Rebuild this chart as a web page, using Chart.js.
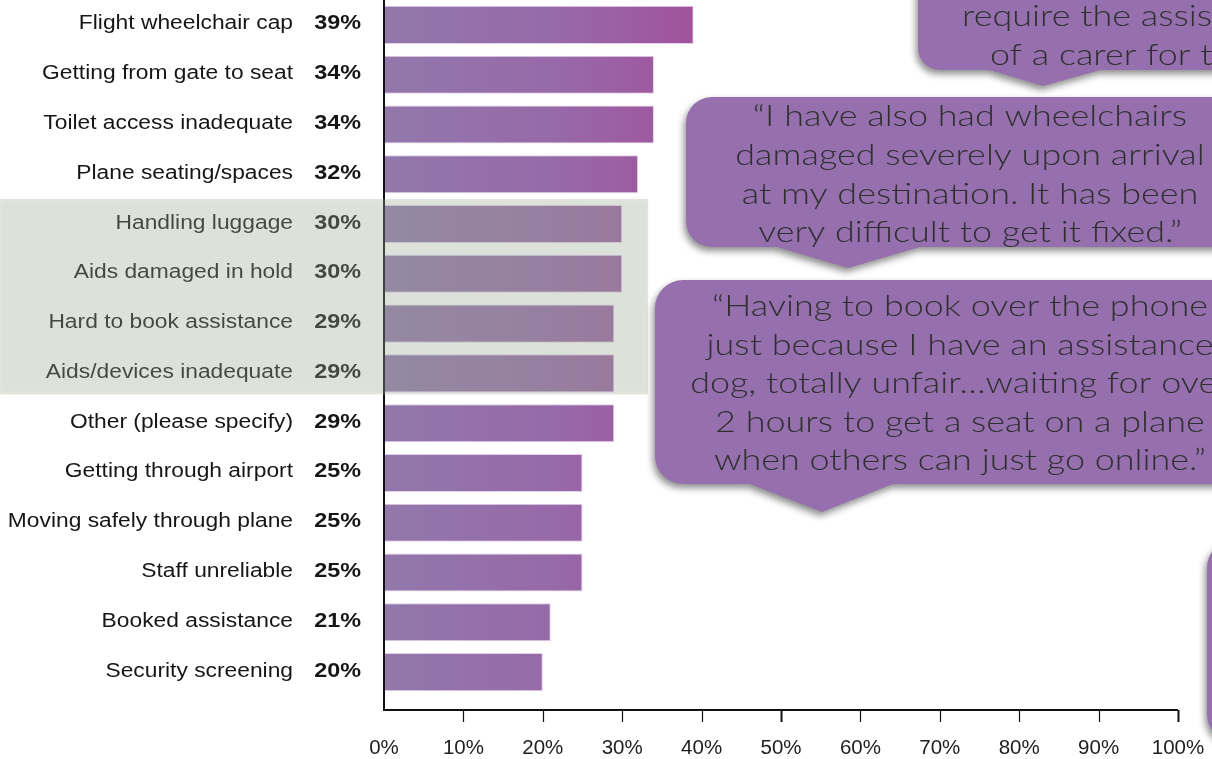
<!DOCTYPE html>
<html>
<head>
<meta charset="utf-8">
<script src="https://cdn.jsdelivr.net/npm/chart.js@4.4.1/dist/chart.umd.min.js"></script>
<style>
  html, body { margin: 0; padding: 0; background: #ffffff; }
  #wrap { position: relative; width: 1212px; height: 759px; overflow: hidden; }
  canvas { display: block; }
</style>
</head>
<body>
<div id="wrap"><canvas id="c" width="1212" height="759"></canvas></div>
<script>
// Barriers reported by respondents (share of respondents, %)
const categories = [
  'Flight wheelchair cap',
  'Getting from gate to seat',
  'Toilet access inadequate',
  'Plane seating/spaces',
  'Handling luggage',
  'Aids damaged in hold',
  'Hard to book assistance',
  'Aids/devices inadequate',
  'Other (please specify)',
  'Getting through airport',
  'Moving safely through plane',
  'Staff unreliable',
  'Booked assistance',
  'Security screening'
];
const percentages = [39, 34, 34, 32, 30, 30, 29, 29, 29, 25, 25, 25, 21, 20];
const highlightedRows = [4, 5, 6, 7];
const tickValues = [0, 10, 20, 30, 40, 50, 60, 70, 80, 90, 100];

// Respondent quotes shown in the speech bubbles
const quoteCarer = ['require the assistance', 'of a carer for the trip.'];
const quoteWheelchairs = [
  '\u201CI have also had wheelchairs',
  'damaged severely upon arrival',
  'at my destination. It has been',
  'very difficult to get it fixed.\u201D'
];
const quotePhone = [
  '\u201CHaving to book over the phone',
  'just because I have an assistance',
  'dog, totally unfair\u2026waiting for over',
  '2 hours to get a seat on a plane',
  'when others can just go online.\u201D'
];

const BUBBLE = '#9670ae';
const LABEL_FONT = 'Liberation Sans, Arial, sans-serif';
const QUOTE_FONT = '300 29px Lato, "Open Sans", sans-serif';
const QUOTE_STRETCH = 1.24;

function stretchedText(ctx, text, x, y, sx) {
  ctx.save();
  ctx.translate(x, y);
  ctx.scale(sx, 1);
  ctx.fillText(text, 0, 0);
  ctx.restore();
}

function bubblePath(ctx, b) {
  const { l, t, r, btm, rad, tail } = b;
  ctx.beginPath();
  ctx.moveTo(l + rad, t);
  ctx.lineTo(r - rad, t);
  ctx.arcTo(r, t, r, t + rad, rad);
  ctx.lineTo(r, btm - rad);
  ctx.arcTo(r, btm, r - rad, btm, rad);
  if (tail) {
    ctx.lineTo(tail[1], btm);
    ctx.lineTo(tail[2], tail[3]);
    ctx.lineTo(tail[0], btm);
  }
  ctx.lineTo(l + rad, btm);
  ctx.arcTo(l, btm, l, btm - rad, rad);
  ctx.lineTo(l, t + rad);
  ctx.arcTo(l, t, l + rad, t, rad);
  ctx.closePath();
}

function drawBubble(ctx, b) {
  ctx.save();
  ctx.shadowColor = 'rgba(0,0,0,0.45)';
  ctx.shadowBlur = 7;
  ctx.shadowOffsetX = -2;
  ctx.shadowOffsetY = 4;
  ctx.fillStyle = BUBBLE;
  bubblePath(ctx, b);
  ctx.fill();
  ctx.restore();
}

// lines: text rows; align 'center' uses x as the centre, 'left' uses xs per row
function drawQuote(ctx, lines, align, xs, y0, step) {
  ctx.save();
  ctx.fillStyle = '#2f2f2f';
  ctx.font = QUOTE_FONT;
  ctx.textAlign = align;
  ctx.textBaseline = 'middle';
  lines.forEach((ln, i) => {
    const px = Array.isArray(xs) ? xs[i] : xs;
    stretchedText(ctx, ln, px, y0 + i * step, QUOTE_STRETCH);
  });
  ctx.restore();
}

const decorations = {
  id: 'decorations',
  afterDatasetsDraw(chart) {
    const { ctx, scales: { x, y }, chartArea } = chart;
    const x0 = x.getPixelForValue(0);
    const axisY = chartArea.bottom + 13;

    // axes
    ctx.save();
    ctx.strokeStyle = '#111';
    ctx.lineWidth = 2;
    ctx.beginPath();
    ctx.moveTo(x0, 0);
    ctx.lineTo(x0, axisY);
    ctx.lineTo(x.getPixelForValue(100), axisY);
    ctx.stroke();
    tickValues.forEach(v => {
      if (v === 0) return;
      const px = Math.round(x.getPixelForValue(v)) + 0.5;
      ctx.lineWidth = (v === 50 || v === 100) ? 2 : 1.2;
      ctx.beginPath();
      ctx.moveTo(px, axisY);
      ctx.lineTo(px, axisY + 12);
      ctx.stroke();
    });
    ctx.restore();

    // category names and percentages
    ctx.save();
    ctx.fillStyle = '#161616';
    ctx.textAlign = 'right';
    ctx.textBaseline = 'middle';
    categories.forEach((name, i) => {
      const py = y.getPixelForValue(i) - 1;
      ctx.font = '20px ' + LABEL_FONT;
      stretchedText(ctx, name, 293, py, 1.14);
      ctx.font = 'bold 20px ' + LABEL_FONT;
      stretchedText(ctx, percentages[i] + '%', 361, py, 1.17);
    });
    ctx.restore();

    // highlighted block of rows
    const first = highlightedRows[0], last = highlightedRows[highlightedRows.length - 1];
    const bandTop = y.getPixelForValue(first) - 25;
    const bandBottom = y.getPixelForValue(last) + 21;
    ctx.save();
    ctx.shadowColor = 'rgba(0,0,0,0.12)';
    ctx.shadowBlur = 5;
    ctx.fillStyle = 'rgba(165,182,160,0.32)';
    ctx.fillRect(0, bandTop, 648, bandBottom - bandTop);
    ctx.restore();

    // speech bubbles
    drawBubble(ctx, { l: 918, t: -120, r: 1320, btm: 70, rad: 22, tail: [990, 1100, 1043, 86] });
    drawQuote(ctx, quoteCarer, 'left', [962, 990], 17, 38.5);
    drawBubble(ctx, { l: 686, t: 97, r: 1254, btm: 247, rad: 26, tail: [777, 920, 848, 268] });
    drawQuote(ctx, quoteWheelchairs, 'center', 970, 117, 38.7);
    drawBubble(ctx, { l: 655, t: 280, r: 1265, btm: 484, rad: 28, tail: [750, 893, 822, 512] });
    drawQuote(ctx, quotePhone, 'center', 960, 307, 38.5);
    drawBubble(ctx, { l: 1207, t: 540, r: 1420, btm: 742, rad: 28 });
  }
};

function barFill(context) {
  const chart = context.chart;
  const { chartArea, scales } = chart;
  if (!chartArea) return '#9472ab';
  const g = chart.ctx.createLinearGradient(scales.x.getPixelForValue(0), 0, scales.x.getPixelForValue(40), 0);
  g.addColorStop(0, '#9278ab');
  g.addColorStop(0.55, '#9769a8');
  g.addColorStop(1, '#a2519b');
  return g;
}

new Chart(document.getElementById('c'), {
  type: 'bar',
  data: {
    labels: categories,
    datasets: [{
      data: percentages,
      backgroundColor: barFill,
      borderColor: 'rgba(226,206,234,0.95)',
      borderWidth: 1,
      borderSkipped: false,
      categoryPercentage: 1,
      barPercentage: 0.765
    }]
  },
  plugins: [decorations],
  options: {
    indexAxis: 'y',
    responsive: false,
    animation: false,
    devicePixelRatio: 1,
    layout: { padding: { top: 0, right: 34, left: 0, bottom: 0 } },
    plugins: { legend: { display: false }, tooltip: { enabled: false } },
    scales: {
      x: {
        type: 'linear',
        min: 0,
        max: 100,
        afterBuildTicks(scale) { scale.ticks = tickValues.map(v => ({ value: v })); },
        afterFit(scale) {
          scale.height = 62;
          scale.paddingLeft = 0;
          scale.paddingRight = 0;
        },
        ticks: {
          callback: v => v + '%',
          color: '#1e1e1e',
          font: { family: 'Liberation Sans, Arial, sans-serif', size: 20.5 },
          padding: 39,
          maxRotation: 0,
          autoSkip: false
        },
        grid: { display: false, drawTicks: false },
        border: { display: false }
      },
      y: {
        type: 'category',
        afterFit(scale) { scale.width = 384; },
        ticks: { display: false },
        grid: { display: false, drawTicks: false },
        border: { display: false }
      }
    }
  }
});
</script>
</body>
</html>
